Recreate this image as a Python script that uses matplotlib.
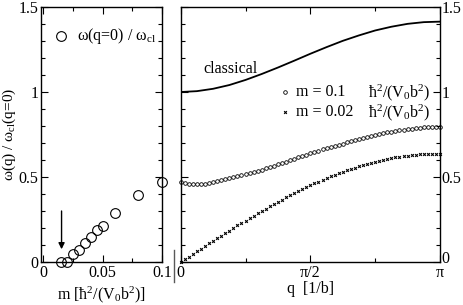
import numpy as np
import matplotlib
matplotlib.use("Agg")
import matplotlib.pyplot as plt
import matplotlib.transforms as mtransforms
from matplotlib.lines import Line2D

plt.rcParams['font.family'] = ['Liberation Serif', 'DejaVu Serif']
plt.rcParams['mathtext.fontset'] = 'custom'
plt.rcParams['mathtext.rm'] = 'Liberation Serif'
plt.rcParams['mathtext.it'] = 'Liberation Serif:italic'
plt.rcParams['font.size'] = 11.5

# left panel: omega(q=0)/omega_cl vs m
m_vals = [0.015, 0.02, 0.025, 0.03, 0.035, 0.04, 0.045, 0.05, 0.06, 0.08, 0.1]
w_ratio = [0.0, 0.0, 0.045, 0.073, 0.114, 0.146, 0.187, 0.212, 0.289, 0.397, 0.472]

# right panel: dispersion
q_classical = np.linspace(0, np.pi, 17)
w_classical = [1.000, 1.005, 1.019, 1.041, 1.071, 1.106, 1.144, 1.184, 1.225,
               1.264, 1.301, 1.333, 1.362, 1.384, 1.401, 1.411, 1.414]

q_grid = np.linspace(0, np.pi, 65)
w_m01 = [0.468, 0.463, 0.458, 0.456, 0.456, 0.458, 0.461, 0.466, 0.471, 0.476,
         0.482, 0.488, 0.493, 0.499, 0.504, 0.509, 0.515, 0.522, 0.529, 0.536,
         0.543, 0.551, 0.559, 0.567, 0.575, 0.583, 0.591, 0.599, 0.607, 0.615,
         0.623, 0.631, 0.639, 0.647, 0.655, 0.662, 0.669, 0.676, 0.683, 0.690,
         0.697, 0.704, 0.711, 0.718, 0.724, 0.730, 0.736, 0.742, 0.748, 0.753,
         0.758, 0.763, 0.767, 0.771, 0.775, 0.779, 0.782, 0.785, 0.788, 0.790,
         0.792, 0.794, 0.795, 0.796, 0.797]
w_m002 = [0.000, 0.016, 0.031, 0.047, 0.063, 0.078, 0.094, 0.109, 0.124, 0.140,
          0.155, 0.170, 0.185, 0.200, 0.215, 0.230, 0.244, 0.259, 0.273, 0.287,
          0.301, 0.314, 0.328, 0.341, 0.354, 0.367, 0.380, 0.393, 0.405, 0.417,
          0.428, 0.440, 0.451, 0.462, 0.473, 0.483, 0.493, 0.503, 0.512, 0.522,
          0.530, 0.539, 0.547, 0.555, 0.563, 0.570, 0.577, 0.583, 0.589, 0.595,
          0.601, 0.606, 0.611, 0.615, 0.619, 0.622, 0.626, 0.629, 0.631, 0.633,
          0.635, 0.636, 0.637, 0.638, 0.638]

fig = plt.figure(figsize=(4.63, 3.05), dpi=100)
ax1 = fig.add_axes([0.0879, 0.141, 0.2626, 0.836])
ax2 = fig.add_axes([0.3903, 0.141, 0.5600, 0.836])

for ax in (ax1, ax2):
    ax.tick_params(which='both', direction='in', top=True, right=True, width=0.8)
    ax.tick_params(which='major', length=5)
    ax.tick_params(which='minor', length=3)
    for s in ax.spines.values():
        s.set_linewidth(1.0)
    ax.set_ylim(0, 1.5)
    ax.set_yticks([0, 0.5, 1, 1.5])
    ax.set_yticklabels(['0', '0.5', '1', '1.5'])
    ax.set_yticks(np.arange(0, 1.51, 0.1), minor=True)

# left
ax1.plot(m_vals, w_ratio, 'o', mfc='none', mec='k', ms=7, mew=0.8, clip_on=False)
ax1.set_xlim(-0.002, 0.1)
ax1.set_xticks([0, 0.05, 0.1])
ax1.set_xticklabels(['0', '0.05', '0.1'])
ax1.set_xticks([0.025, 0.075], minor=True)
ax1.tick_params(axis='y', pad=1.5)
ax1.tick_params(axis='x', pad=2.5)
ax1.annotate('', xy=(0.0155, 0.075), xytext=(0.0155, 0.30),
             arrowprops=dict(arrowstyle='-|>', lw=1.0, color='k',
                             mutation_scale=9, shrinkA=0, shrinkB=0))
ax1.plot([0.0148], [1.327], 'o', mfc='none', mec='k', ms=7, mew=0.8)
ax1.text(0.0284, 1.327, r'ω(q=0) / ω$_{\mathrm{cl}}$', va='center', ha='left')
ax1.set_xlabel(r'm [ħ$^2$/(V$_0$b$^2$)]', labelpad=2)
ax1.set_ylabel(r'ω(q) / ω$_{\mathrm{cl}}$(q=0)', fontsize=11)
ax1.yaxis.set_label_coords(-0.19, 0.5)

# right
ax2.plot(q_classical, w_classical, '-', color='k', lw=1.3)
ax2.plot(q_grid, w_m01, 'o', mfc='none', mec='k', ms=2.6, mew=0.6,
         color='k', clip_on=False)
ax2.plot(q_grid, w_m002, 'x', color='k', ms=2.0, mew=0.8, clip_on=False)
ax2.set_xlim(0, np.pi)
ax2.set_xticks([0, np.pi / 2, np.pi])
ax2.set_xticklabels(['0', 'π/2', 'π'])
ax2.set_xticks([np.pi / 4, 3 * np.pi / 4], minor=True)
ax2.tick_params(axis='y', labelleft=False, labelright=True, pad=1)
ax2.tick_params(axis='x', pad=2.5)
ax2.set_xlabel('q  [1/b]', labelpad=0)
ax2.text(0.27, 1.133, 'classical', va='center', ha='left')
ax2.plot([1.266], [0.998], 'o', mfc='none', mec='k', ms=2.6, mew=0.6)
ax2.plot([1.266], [0.880], 'x', color='k', ms=2.0, mew=0.8)
ax2.text(1.397, 0.998, 'm = 0.1', va='center', ha='left')
ax2.text(1.397, 0.880, 'm = 0.02', va='center', ha='left')
ax2.text(2.269, 0.998, r'ħ$^2$/(V$_0$b$^2$)', va='center', ha='left')
ax2.text(2.269, 0.880, r'ħ$^2$/(V$_0$b$^2$)', va='center', ha='left')

# lift the right "0" so it sits above the pi label
for t in ax2.yaxis.get_major_ticks()[:1]:
    t.label2.set_transform(t.label2.get_transform() +
                           mtransforms.ScaledTranslation(0, 3.5 / 72, fig.dpi_scale_trans))

# axis break mark between the panels
fig.add_artist(Line2D([0.3758, 0.3758], [0.0754, 0.180], color='0.35', lw=1.0))

fig.savefig('out.png', dpi=100)
